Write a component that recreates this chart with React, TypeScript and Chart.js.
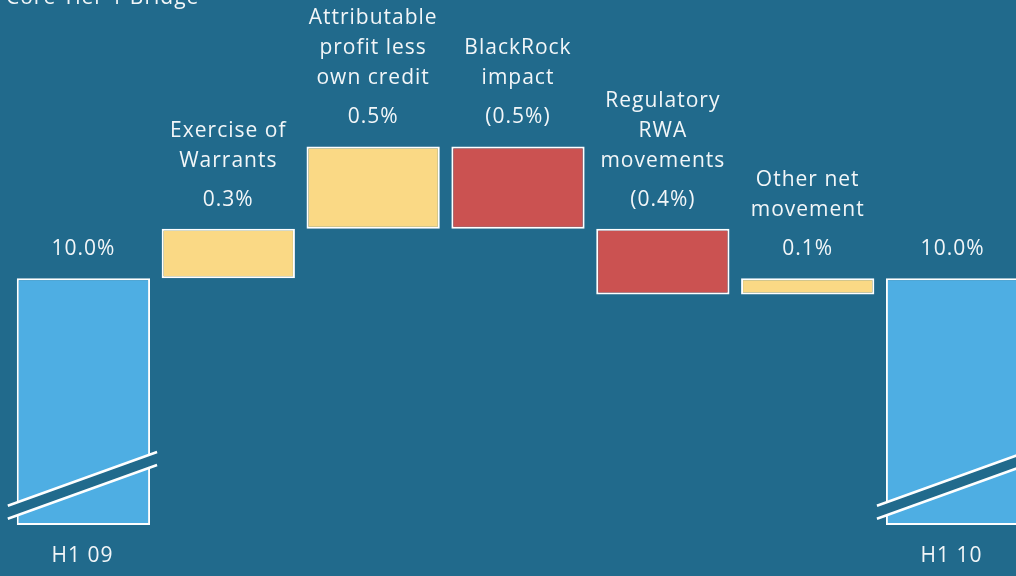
import React, { useEffect, useRef } from "react";
import { Chart, registerables } from "chart.js";

Chart.register(...registerables);

// ---- data ----
const title = "Core Tier 1 Bridge";
const categories = [
  "H1 09",
  "Exercise of Warrants",
  "Attributable profit less own credit",
  "BlackRock impact",
  "Regulatory RWA movements",
  "Other net movement",
  "H1 10",
];
const labelLines: string[][] = [
  [],
  ["Exercise of", "Warrants"],
  ["Attributable", "profit less", "own credit"],
  ["BlackRock", "impact"],
  ["Regulatory", "RWA", "movements"],
  ["Other net", "movement"],
  [],
];
const valueLabels = ["10.0%", "0.3%", "0.5%", "(0.5%)", "(0.4%)", "0.1%", "10.0%"];
const axisLabels = ["H1 09", "", "", "", "", "", "H1 10"];
const startValue = 10.0;
const changes = [0.3, 0.5, -0.5, -0.4, 0.1];
const endValue = 10.0;
const breakBase = 8.5; // broken axis: totals start here
const yMin = 8.19;
const yMax = 11.69;

// ---- style ----
const BG = "#216a8c";
const BLUE = "#4eaee3";
const YELLOW = "#fad985";
const RED = "#cb5251";
const TEXT = "#f2f6f8";
const FONT = '21px "Open Sans", "Noto Sans", sans-serif';

function buildRanges(): [number, number][] {
  const out: [number, number][] = [[breakBase, startValue]];
  let cur = startValue;
  for (const c of changes) {
    const next = cur + c;
    out.push([Math.min(cur, next), Math.max(cur, next)]);
    cur = next;
  }
  out.push([breakBase, endValue]);
  return out;
}

const labelPlugin = {
  id: "waterfallLabels",
  afterDatasetsDraw(chart: any) {
    const ctx = chart.ctx as CanvasRenderingContext2D;
    const meta = chart.getDatasetMeta(0);
    const n = meta.data.length;
    ctx.save();
    ctx.font = FONT;
    (ctx as any).letterSpacing = "1px";
    ctx.fillStyle = TEXT;
    ctx.textAlign = "center";
    ctx.textBaseline = "middle";
    meta.data.forEach((el: any, i: number) => {
      const top = Math.min(el.y, el.base);
      const vy = top - 29;
      ctx.fillText(valueLabels[i], el.x, vy);
      const lines = labelLines[i];
      for (let k = 0; k < lines.length; k++) {
        const fromEnd = lines.length - 1 - k;
        ctx.fillText(lines[k], el.x, vy - 39 - fromEnd * 30);
      }
      if (axisLabels[i]) {
        ctx.fillText(axisLabels[i], el.x - 1, 556);
      }
      // axis break marks on totals
      if (i === 0 || i === n - 1) {
        const bottom = Math.max(el.y, el.base);
        const left = el.x - el.width / 2;
        const right = el.x + el.width / 2;
        const x0 = left - 9;
        const x1 = right + 7;
        const slope = 0.36;
        const yc = bottom - 40;
        const half = 6.5;
        const yAt = (x: number) => yc - slope * (x - el.x);
        ctx.beginPath();
        ctx.moveTo(x0, yAt(x0) - half);
        ctx.lineTo(x1, yAt(x1) - half);
        ctx.lineTo(x1, yAt(x1) + half);
        ctx.lineTo(x0, yAt(x0) + half);
        ctx.closePath();
        ctx.fillStyle = BG;
        ctx.fill();
        ctx.strokeStyle = "#ffffff";
        ctx.lineWidth = 2.5;
        ctx.beginPath();
        ctx.moveTo(x0, yAt(x0) - half);
        ctx.lineTo(x1, yAt(x1) - half);
        ctx.moveTo(x0, yAt(x0) + half);
        ctx.lineTo(x1, yAt(x1) + half);
        ctx.stroke();
        ctx.fillStyle = TEXT;
      }
    });
    // title (partly above the visible area)
    ctx.textAlign = "left";
    ctx.textBaseline = "alphabetic";
    ctx.fillText(title, 6, 4);
    ctx.restore();
  },
};

export default function App() {
  const ref = useRef<HTMLCanvasElement | null>(null);
  useEffect(() => {
    if (!ref.current) return;
    const ranges = buildRanges();
    const colors = ranges.map((r, i) => {
      if (i === 0 || i === ranges.length - 1) return BLUE;
      return changes[i - 1] >= 0 ? YELLOW : RED;
    });
    const chart = new Chart(ref.current, {
      type: "bar",
      data: {
        labels: categories,
        datasets: [
          {
            data: ranges as any,
            backgroundColor: colors,
            borderColor: "#ffffff",
            borderWidth: 2,
            borderSkipped: false,
            barPercentage: 0.92,
            categoryPercentage: 1,
          },
        ],
      },
      options: {
        responsive: false,
        maintainAspectRatio: false,
        animation: false,
        layout: { padding: { left: 11, right: 15, top: 0, bottom: 0 } },
        scales: {
          x: { display: false },
          y: { display: false, min: yMin, max: yMax },
        },
        plugins: {
          legend: { display: false },
          tooltip: { enabled: false },
        },
      },
      plugins: [labelPlugin],
    });
    return () => chart.destroy();
  }, []);
  return (
    <div
      style={{
        position: "fixed",
        left: 0,
        top: 0,
        width: 1016,
        height: 576,
        overflow: "hidden",
        background: BG,
      }}
    >
      <canvas ref={ref} width={1040} height={576} style={{ display: "block" }} />
    </div>
  );
}
